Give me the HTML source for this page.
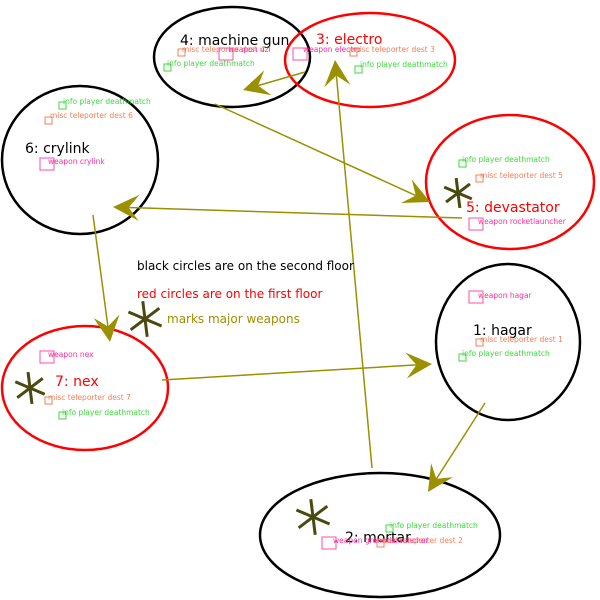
<!DOCTYPE html>
<html><head><meta charset="utf-8"><style>
html,body{margin:0;padding:0;background:#fff;}
svg{display:block;font-family:"DejaVu Sans","Liberation Sans",sans-serif;}
.s{font-size:7.5px}
</style></head><body>
<svg id="g" width="600" height="600" viewBox="0 0 600 600" xmlns="http://www.w3.org/2000/svg">
<rect width="600" height="600" fill="#fff"/>
<g fill="none" stroke-width="2.5">
<ellipse cx="232" cy="57" rx="78" ry="50" stroke="#000"/>
<ellipse cx="370" cy="60" rx="85" ry="47" stroke="#f00"/>
<ellipse cx="80" cy="160" rx="78" ry="74" stroke="#000"/>
<ellipse cx="510" cy="182" rx="84" ry="67" stroke="#f00"/>
<ellipse cx="85" cy="388" rx="83" ry="62" stroke="#f00"/>
<ellipse cx="508" cy="342" rx="72" ry="78" stroke="#000"/>
<ellipse cx="380" cy="535" rx="120" ry="62" stroke="#000"/>
</g>
<g id="arrows" stroke="#9a9000" fill="#9a9000"></g>
<g id="stars" stroke="#4a4a10" stroke-width="3"></g>
<g font-size="14">
<text x="180" y="45">4: machine gun</text>
<text x="316" y="44" fill="#f00">3: electro</text>
<text x="25" y="153">6: crylink</text>
<text x="466" y="212" fill="#f00">5: devastator</text>
<text x="55" y="386" fill="#f00">7: nex</text>
<text x="473" y="335">1: hagar</text>
<text x="345" y="542">2: mortar</text>
</g>
<g font-size="12">
<text x="137" y="270">black circles are on the second floor</text>
<text x="137" y="298" fill="#f00">red circles are on the first floor</text>
<text x="167" y="323" fill="#9a9000">marks major weapons</text>
</g>
<g class="s" fill="#f7805a">
<text x="182" y="52">misc teleporter dest 4</text>
<text x="352" y="52">misc teleporter dest 3</text>
<text x="50" y="118">misc teleporter dest 6</text>
<text x="480" y="178">misc teleporter dest 5</text>
<text x="48" y="400">misc teleporter dest 7</text>
<text x="480" y="342">misc teleporter dest 1</text>
<text x="380" y="543">misc teleporter dest 2</text>
</g>
<g class="s" fill="#ff2f9a">
<text x="228" y="52">weapon uzi</text>
<text x="303" y="52">weapon electro</text>
<text x="48" y="164">weapon crylink</text>
<text x="478" y="224">weapon rocketlauncher</text>
<text x="48" y="357">weapon nex</text>
<text x="478" y="298">weapon hagar</text>
<text x="333" y="543">weapon grenadelauncher</text>
</g>
<g class="s" fill="#3ed83e">
<text x="167" y="66">info player deathmatch</text>
<text x="360" y="67">info player deathmatch</text>
<text x="63" y="104">info player deathmatch</text>
<text x="462" y="162">info player deathmatch</text>
<text x="62" y="415">info player deathmatch</text>
<text x="462" y="356">info player deathmatch</text>
<text x="390" y="528">info player deathmatch</text>
</g>
<g fill="none" stroke-width="1">
<g stroke="#ff4fa5">
<rect x="219" y="48" width="14" height="12"/><rect x="293" y="48" width="14" height="12"/>
<rect x="40" y="158" width="14" height="12"/><rect x="469" y="218" width="14" height="12"/>
<rect x="40" y="351" width="14" height="12"/><rect x="469" y="291" width="14" height="12"/>
<rect x="322" y="537" width="14" height="12"/>
</g>
<g stroke="#f7805a">
<rect x="178" y="49" width="7" height="7"/><rect x="350" y="49" width="7" height="7"/>
<rect x="45" y="117" width="7" height="7"/><rect x="476" y="175" width="7" height="7"/>
<rect x="45" y="397" width="7" height="7"/><rect x="476" y="339" width="7" height="7"/>
<rect x="377" y="540" width="7" height="7"/>
</g>
<g stroke="#3ed83e">
<rect x="164" y="64" width="7" height="7"/><rect x="355" y="66" width="7" height="7"/>
<rect x="59" y="102" width="7" height="7"/><rect x="459" y="160" width="7" height="7"/>
<rect x="59" y="412" width="7" height="7"/><rect x="459" y="354" width="7" height="7"/>
<rect x="386" y="525" width="7" height="7"/>
</g>
</g>
</svg>
<script>
var NS="http://www.w3.org/2000/svg";
function el(p,t,a){var e=document.createElementNS(NS,t);for(var k in a)e.setAttribute(k,a[k]);p.appendChild(e);return e;}
var A=document.getElementById("arrows");
function arrow(x1,y1,x2,y2){
 var dx=x2-x1,dy=y2-y1,L=Math.hypot(dx,dy),ux=dx/L,uy=dy/L,px=-uy,py=ux;
 var len=26,w=13;
 el(A,"line",{x1:x1,y1:y1,x2:x2-ux*len*0.6,y2:y2-uy*len*0.6,"stroke-width":1.5});
 var bx=x2-ux*len,by=y2-uy*len,nx=x2-ux*len*0.6,ny=y2-uy*len*0.6;
 el(A,"polygon",{points:[x2,y2,bx+px*w,by+py*w,nx,ny,bx-px*w,by-py*w].join(","),stroke:"none"});
}
arrow(305,72,243,90);
arrow(215,104,430,202);
arrow(462,218,113,207);
arrow(93,215,110,342);
arrow(162,380,432,364);
arrow(485,403,428,492);
arrow(372,468,335,60);
var S=document.getElementById("stars");
function star(cx,cy,r){for(var i=0;i<3;i++){var a=Math.PI/3*i+0.4;el(S,"line",{x1:cx-Math.cos(a)*r,y1:cy-Math.sin(a)*r,x2:cx+Math.cos(a)*r,y2:cy+Math.sin(a)*r});}}
star(145,319,18);star(30,388,16);star(313,517,18);star(458,193,15);
</script>
</body></html>
